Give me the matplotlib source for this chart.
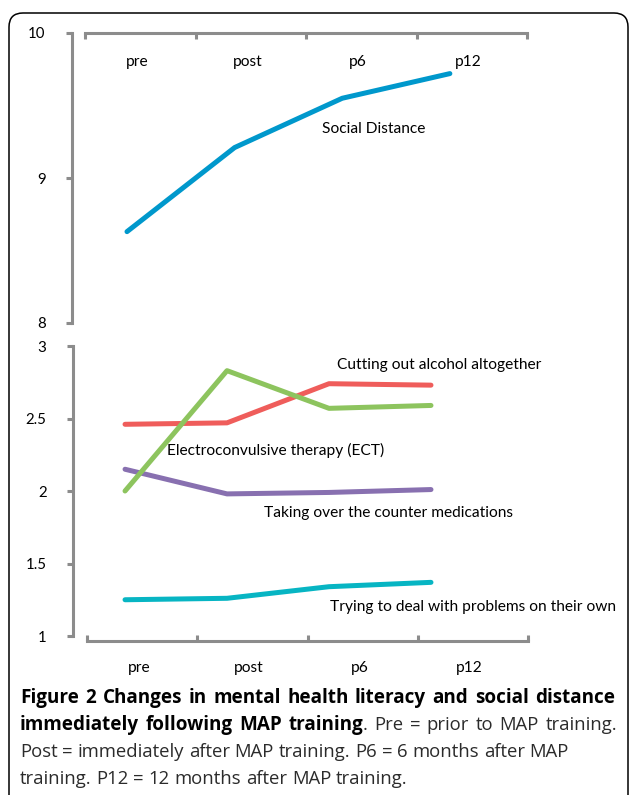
import numpy as np
import matplotlib
matplotlib.use("Agg")
import matplotlib.pyplot as plt
from matplotlib.patches import FancyBboxPatch
from matplotlib.transforms import IdentityTransform

# Data
categories = ["pre", "post", "p6", "p12"]

social_distance = [8.63, 9.21, 9.55, 9.72]

cutting_alcohol = [2.46, 2.47, 2.74, 2.73]
ect = [2.00, 2.83, 2.57, 2.59]
otc_medications = [2.15, 1.98, 1.99, 2.01]
deal_on_own = [1.25, 1.26, 1.34, 1.37]

series_labels = ["Cutting out alcohol altogether",
                 "Electroconvulsive therapy (ECT)",
                 "Taking over the counter medications",
                 "Trying to deal with problems on their own"]

top_yticks = [8, 9, 10]
bottom_yticks = [1, 1.5, 2, 2.5, 3]

W, H = 629, 795
GRAY = "#8c8c8c"
LW = 3.6
FONT = "Lato"
FS = 11.2

fig = plt.figure(figsize=(W / 100, H / 100), dpi=100)


def px_axes(left, top, right, bottom):
    # rectangle given in pixels from the top-left corner
    return fig.add_axes([left / W, 1 - bottom / H, (right - left) / W, (bottom - top) / H])


def style_axis(ax, spine_name):
    for s in ax.spines.values():
        s.set_visible(False)
    ax.spines["left"].set_visible(True)
    ax.spines["left"].set_color(GRAY)
    ax.spines["left"].set_linewidth(2.2)
    sp = ax.spines[spine_name]
    sp.set_visible(True)
    sp.set_color(GRAY)
    sp.set_linewidth(2.2)
    sp.set_bounds(0, 4)
    ax.tick_params(axis="y", direction="out", length=4, width=2.2, color=GRAY,
                   pad=15, labelsize=10.8)
    for lab in ax.get_yticklabels():
        lab.set_fontfamily(FONT)
    ax.set_xticks(range(5))
    ax.set_xticklabels([])
    if spine_name == "top":
        ax.tick_params(axis="x", top=True, bottom=False, direction="in",
                       length=4, width=2.2, color=GRAY)
    else:
        ax.tick_params(axis="x", top=False, bottom=True, direction="in",
                       length=4, width=2.2, color=GRAY)


# ---- top panel: social distance
ax1 = px_axes(72, 33, 527, 323)
ax1.set_xlim(-13 / 110.5, 4)
ax1.set_ylim(8, 10)
ax1.set_yticks(top_yticks)
ax1.set_yticklabels([str(t) for t in top_yticks])
style_axis(ax1, "top")

top_x = 0.38 + 0.974 * np.arange(len(categories))
ax1.plot(top_x, social_distance, color="#0098cc", lw=LW, solid_capstyle="round",
         solid_joinstyle="round")
for i, c in enumerate(categories):
    ax1.annotate(c, xy=(i + 0.47, 1), xycoords=("data", "axes fraction"),
                 xytext=(0, -29 * 0.72), textcoords="offset points",
                 ha="center", va="center", fontsize=FS, family=FONT)
ax1.text(2.145, 9.34, "Social Distance", ha="left", va="center",
         fontsize=FS, family=FONT)

# ---- bottom panel: mental health literacy
ax2 = px_axes(73, 346, 528, 636)
ax2.set_xlim(-14 / 110.25, 4)
ax2.set_ylim(1, 3)
ax2.set_yticks(bottom_yticks)
ax2.set_yticklabels(["1", "1.5", "2", "2.5", "3"])
style_axis(ax2, "bottom")
ax2.spines["bottom"].set_position(("outward", 5 * 0.72))

bot_x = 0.345 + 0.925 * np.arange(len(categories))
colors = ["#ef5d5b", "#8dc45e", "#8870b0", "#07b5c3"]
series = [cutting_alcohol, ect, otc_medications, deal_on_own]
zorders = [2, 3, 2, 2]
for vals, col, z in zip(series, colors, zorders):
    ax2.plot(bot_x, vals, color=col, lw=LW, solid_capstyle="round",
             solid_joinstyle="round", zorder=z)

label_pos = [(2.27, 2.87), (0.726, 2.28), (1.605, 1.85), (2.204, 1.20)]
for lab, (lx, ly) in zip(series_labels, label_pos):
    ax2.text(lx, ly, lab, ha="left", va="center", fontsize=FS, family=FONT)

for i, c in enumerate(categories):
    ax2.annotate(c, xy=(i + 0.47, 0), xycoords=("data", "axes fraction"),
                 xytext=(0, -32 * 0.72), textcoords="offset points",
                 ha="center", va="center", fontsize=FS, family=FONT)

# ---- frame around the figure
frame = FancyBboxPatch((9, -40), 619, 795 - 13 + 40, boxstyle="round,pad=0,rounding_size=14",
                       transform=IdentityTransform(), fill=False, ec="black", lw=1.1,
                       figure=fig)
fig.patches.append(frame)

# ---- caption
CAP = "Open Sans"
CAP_FS = {"bold": 13.6, "normal": 13.3}
CAP_COL = "#2b2b2b"
renderer = fig.canvas.get_renderer()


def caption_line(words, y, x0, x1=None):
    # words: list of words, each a list of (text, weight) pieces
    arts = []
    widths = []
    for word in words:
        pieces = []
        w = 0
        for txt, wt in word:
            t = fig.text(0, 1 - y / H, txt, ha="left", va="center", fontsize=CAP_FS[wt],
                         family=CAP, fontweight=wt, color="black" if wt == "bold" else CAP_COL)
            pw = t.get_window_extent(renderer).width
            pieces.append((t, pw))
            w += pw
        arts.append(pieces)
        widths.append(w)
    space = fig.text(0, 0, "a a", fontsize=CAP_FS["normal"], family=CAP)
    sp_w = space.get_window_extent(renderer).width
    space.set_text("aa")
    sp_w -= space.get_window_extent(renderer).width
    space.remove()
    if x1 is None:
        gap = sp_w
    else:
        gap = (x1 - x0 - sum(widths)) / (len(words) - 1)
    x = x0
    for pieces in arts:
        for t, pw in pieces:
            t.set_x(x / W)
            x += pw
        x += gap


def split(text, weight="normal"):
    return [[(w, weight)] for w in text.split()]


line1 = split("Figure 2 Changes in mental health literacy and social distance", "bold")
line2 = split("immediately following MAP", "bold") + [[("training", "bold"), (".", "normal")]] \
    + split("Pre = prior to MAP training.")
caption_line(line1, 698, 20, 615)
caption_line(line2, 725, 20, 617)
caption_line(split("Post = immediately after MAP training. P6 = 6 months after MAP"), 752, 20)
caption_line(split("training. P12 = 12 months after MAP training."), 779, 20)

fig.savefig("out.png", dpi=100)
